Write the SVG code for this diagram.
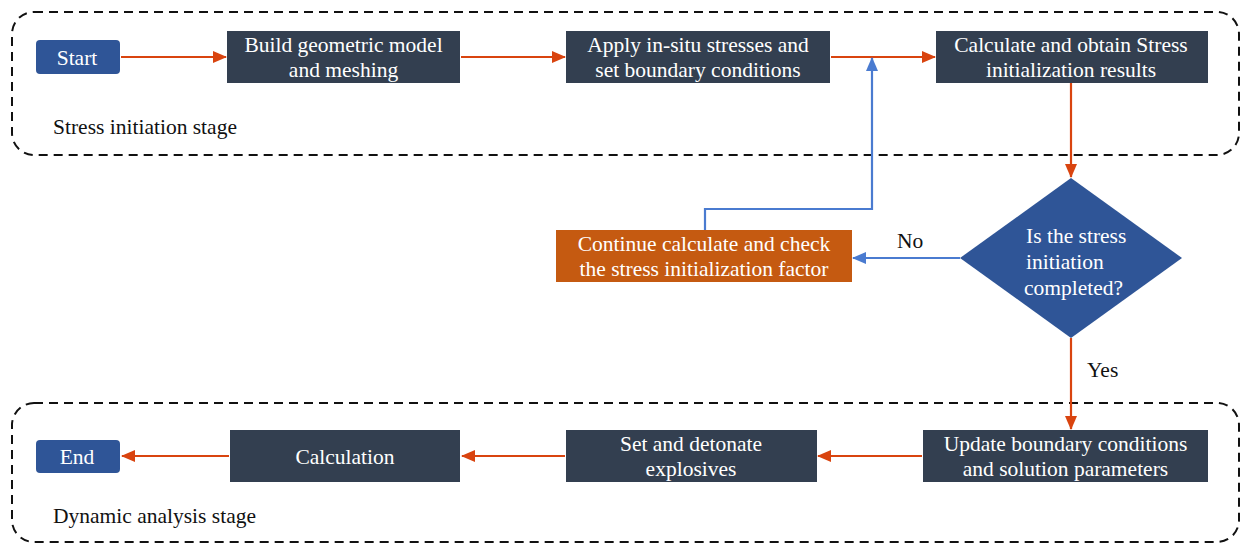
<svg xmlns="http://www.w3.org/2000/svg" width="1242" height="545" viewBox="0 0 1242 545">
<defs>
<style>
.stage{fill:none;stroke:#111;stroke-width:2;stroke-dasharray:9 6}
.box{fill:#333F50}
.term{fill:#2F5597}
text{font-family:'Liberation Serif','Times New Roman',serif;font-size:21.5px}
.t{fill:#fff;text-anchor:middle}
.lbl{fill:#111}
.red{fill:none;stroke:#D9440F;stroke-width:2.2;marker-end:url(#ar)}
.blue{fill:none;stroke:#4A7BD0;stroke-width:2.2;marker-end:url(#ab)}
</style>
<marker id="ar" markerWidth="14" markerHeight="12" refX="13" refY="6" orient="auto" markerUnits="userSpaceOnUse" viewBox="0 0 14 12"><path d="M0,0 L14,6 L0,12 z" fill="#D9440F"/></marker>
<marker id="ab" markerWidth="14" markerHeight="12" refX="13" refY="6" orient="auto" markerUnits="userSpaceOnUse" viewBox="0 0 14 12"><path d="M0,0 L14,6 L0,12 z" fill="#4A7BD0"/></marker>
</defs>
<rect width="1242" height="545" fill="#fff"/>
<g id="stage1"><rect class="stage" x="12" y="12" width="1227" height="143" rx="22"/><text class="lbl" x="53" y="134">Stress initiation stage</text></g>
<g id="stage2"><rect class="stage" x="12" y="403" width="1227" height="139" rx="22"/><text class="lbl" x="53" y="523">Dynamic analysis stage</text></g>
<g id="connectors">
<path class="red" d="M121,57 H226"/>
<path class="red" d="M461,57 H565"/>
<path class="red" d="M831,57 H935"/>
<path class="red" d="M1071,83 V177"/>
<path class="red" d="M1071,338 V429"/>
<path class="red" d="M922,456 H818"/>
<path class="red" d="M565,456 H462"/>
<path class="red" d="M229,456 H122"/>
<path class="blue" d="M960,258 H853"/>
<path class="blue" d="M705,230 V209 H872 V58"/>
<text class="lbl" x="897" y="248">No</text>
<text class="lbl" x="1087" y="377">Yes</text>
</g>
<g id="start"><rect class="term" x="36" y="40" width="84" height="34" rx="4"/><text class="t" x="77" y="65">Start</text></g>
<g id="build"><rect class="box" x="227" y="31" width="233" height="52"/><text class="t" x="343.5" y="52">Build geometric model</text><text class="t" x="343.5" y="77">and meshing</text></g>
<g id="apply"><rect class="box" x="566" y="31" width="264" height="52"/><text class="t" x="698" y="52">Apply  in-situ stresses and</text><text class="t" x="698" y="77">set boundary conditions</text></g>
<g id="calc"><rect class="box" x="936" y="31" width="272" height="52"/><text class="t" x="1071" y="52">Calculate and obtain Stress</text><text class="t" x="1071" y="77">initialization results</text></g>
<g id="decision"><path class="term" d="M1071,178 L1182,258 L1071,338 L960,258 z"/><text class="t" x="1026" y="243" style="text-anchor:start">Is the stress</text><text class="t" x="1026" y="269" style="text-anchor:start">initiation</text><text class="t" x="1024" y="295" style="text-anchor:start">completed?</text></g>
<g id="continue"><rect x="556" y="230" width="296" height="52" fill="#C55A11"/><text class="t" x="704" y="251">Continue calculate and check</text><text class="t" x="704" y="276">the stress initialization factor</text></g>
<g id="update"><rect class="box" x="923" y="430" width="285" height="52"/><text class="t" x="1065.5" y="451">Update boundary conditions</text><text class="t" x="1065.5" y="476">and solution parameters</text></g>
<g id="detonate"><rect class="box" x="566" y="430" width="251" height="52"/><text class="t" x="691" y="451">Set and detonate</text><text class="t" x="691" y="476">explosives</text></g>
<g id="calculation"><rect class="box" x="230" y="430" width="230" height="52"/><text class="t" x="345" y="464">Calculation</text></g>
<g id="end"><rect class="term" x="36" y="440" width="84" height="33" rx="4"/><text class="t" x="77" y="464">End</text></g>
</svg>
